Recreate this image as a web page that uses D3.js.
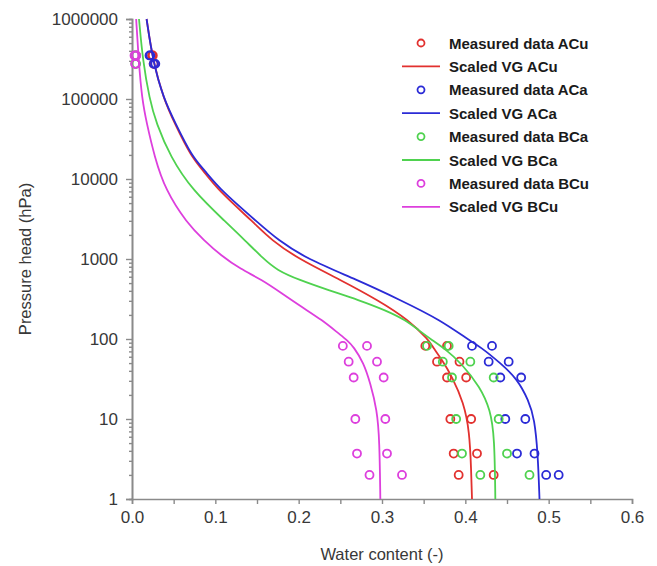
<!DOCTYPE html>
<html>
<head>
<meta charset="utf-8">
<script src="https://cdn.jsdelivr.net/npm/d3@7"></script>
<style>
  body { margin: 0; background: #fff; }
  svg { display: block; font-family: "Liberation Sans", Arial, sans-serif; }
</style>
</head>
<body>
<script>
// suction heads of the measured points (hPa)
const heads = [350000, 275000, 82, 52, 33, 10, 3.7, 2];

// measured water content, two replicates per soil
const measACu1 = [0.024, 0.026, 0.352, 0.366, 0.378, 0.382, 0.386, 0.392];
const measACu2 = [0.025, 0.027, 0.378, 0.393, 0.401, 0.407, 0.414, 0.434];
const measACa1 = [0.021, 0.026, 0.408, 0.428, 0.442, 0.448, 0.462, 0.497];
const measACa2 = [0.022, 0.028, 0.432, 0.452, 0.467, 0.472, 0.483, 0.512];
const measBCa1 = [0.004, 0.004, 0.354, 0.373, 0.384, 0.389, 0.396, 0.418];
const measBCa2 = [0.005, 0.005, 0.380, 0.406, 0.434, 0.440, 0.450, 0.477];
const measBCu1 = [0.003, 0.004, 0.253, 0.260, 0.266, 0.268, 0.270, 0.285];
const measBCu2 = [0.005, 0.004, 0.282, 0.294, 0.302, 0.304, 0.306, 0.324];

// scaled VG curves: [water content, head]
const vgACu = [[0.0175, 1000000], [0.025, 300000], [0.038, 100000], [0.051, 50000], [0.071, 19000],
  [0.085, 12900], [0.103, 7300], [0.147, 2800], [0.167, 1730], [0.2, 1000], [0.25, 550], [0.295, 307],
  [0.332, 173], [0.356, 97], [0.36, 82], [0.372, 55], [0.384, 34], [0.398, 16], [0.405, 7],
  [0.407, 2.3], [0.408, 1]];
const vgACa = [[0.0175, 1000000], [0.025, 300000], [0.038, 100000], [0.052, 50000], [0.072, 19000],
  [0.087, 12900], [0.106, 7300], [0.152, 2800], [0.175, 1730], [0.21, 1000], [0.27, 550], [0.322, 307],
  [0.37, 173], [0.404, 97], [0.418, 80], [0.442, 50], [0.462, 32], [0.476, 17], [0.483, 10],
  [0.487, 3.7], [0.489, 1]];
const vgBCa = [[0.0084, 1000000], [0.013, 300000], [0.021, 100000], [0.029, 50000], [0.046, 19000],
  [0.072, 7300], [0.114, 2800], [0.135, 1730], [0.158, 1000], [0.174, 724], [0.2, 550], [0.236, 407],
  [0.272, 307], [0.304, 229], [0.328, 173], [0.344, 129], [0.36, 97], [0.376, 75], [0.395, 50],
  [0.418, 25], [0.43, 13], [0.435, 6], [0.436, 1]];
const vgBCu = [[0.005, 1000000], [0.008, 300000], [0.012, 100000], [0.0176, 50000], [0.027, 19000],
  [0.04, 7300], [0.066, 2800], [0.086, 1730], [0.107, 1100], [0.13, 750], [0.156, 550], [0.18, 370],
  [0.204, 250], [0.228, 173], [0.248, 117], [0.258, 97], [0.266, 80], [0.278, 50], [0.286, 28],
  [0.294, 13], [0.297, 5.5], [0.298, 1]];

const names = ['ACu', 'ACa', 'BCa', 'BCu'];
const colors = ['#e2312f', '#2b2bd6', '#4fd24f', '#dd3fdd'];

const xTicks = [0, 0.05, 0.1, 0.15, 0.2, 0.25, 0.3, 0.35, 0.4, 0.45, 0.5, 0.55, 0.6];
const yTicks = [1, 10, 100, 1000, 10000, 100000, 1000000];

const series = [
  { meas: [measACu1, measACu2], vg: vgACu },
  { meas: [measACa1, measACa2], vg: vgACa },
  { meas: [measBCa1, measBCa2], vg: vgBCa },
  { meas: [measBCu1, measBCu2], vg: vgBCu },
];

const W = 657, H = 566;
const svg = d3.select('body').append('svg').attr('width', W).attr('height', H);

const x = d3.scaleLinear().domain([0, 0.6]).range([132, 632]);
const y = d3.scaleLog().domain([1, 1000000]).range([499, 19]);

const axisColor = '#8a8a8a';
const labelColor = '#383838';

// y minor ticks (2..9 in every decade)
const yMinor = [];
yTicks.slice(0, -1).forEach((d) => { for (let k = 2; k < 10; k++) yMinor.push(d * k); });

const gyMinor = svg.append('g').attr('transform', `translate(${x(0)},0)`)
  .call(d3.axisLeft(y).tickValues(yMinor).tickSize(3).tickFormat(''));
const gy = svg.append('g').attr('transform', `translate(${x(0)},0)`)
  .call(d3.axisLeft(y).tickValues(yTicks).tickSize(6).tickPadding(8).tickFormat(d3.format('d')));
const gx = svg.append('g').attr('transform', `translate(0,${y(1)})`)
  .call(d3.axisBottom(x).tickValues(xTicks).tickSize(5).tickPadding(7)
    .tickFormat((d) => (Math.round(d * 100) % 10 === 0 ? d.toFixed(1) : '')));

[gyMinor, gy, gx].forEach((g) => {
  g.selectAll('path').attr('stroke', axisColor).attr('stroke-width', 1.6);
  g.selectAll('line').attr('stroke', axisColor).attr('stroke-width', 1.4);
  g.selectAll('text').attr('fill', labelColor).attr('font-size', 17)
    .attr('font-family', '"Liberation Sans", Arial, sans-serif');
});

svg.append('text')
  .attr('transform', `translate(25,${(y(1) + y(1000000)) / 2}) rotate(-90)`)
  .attr('text-anchor', 'middle').attr('dominant-baseline', 'central')
  .attr('font-size', 16.5).attr('fill', labelColor)
  .text('Pressure head (hPa)');

svg.append('text')
  .attr('x', (x(0) + x(0.6)) / 2).attr('y', 554)
  .attr('text-anchor', 'middle').attr('dominant-baseline', 'central')
  .attr('font-size', 16.5).attr('fill', labelColor)
  .text('Water content (-)');

const line = d3.line()
  .x((d) => x(d[0]))
  .y((d) => y(d[1]))
  .curve(d3.curveBasis);

series.forEach((s, i) => {
  const pts = [];
  s.meas.forEach((rep) => rep.forEach((v, j) => pts.push([v, heads[j]])));
  svg.append('g').selectAll('circle').data(pts).enter().append('circle')
    .attr('cx', (d) => x(d[0]))
    .attr('cy', (d) => y(d[1]))
    .attr('r', 4)
    .attr('fill', 'none')
    .attr('stroke', colors[i])
    .attr('stroke-width', 1.8);

  svg.append('path')
    .datum(s.vg.slice().sort((a, b) => a[1] - b[1]))
    .attr('d', line)
    .attr('fill', 'none')
    .attr('stroke', colors[i])
    .attr('stroke-width', 1.8);
});

// legend
const legend = svg.append('g');
const rowH = 23.4;
names.forEach((n, i) => {
  const y0 = 43 + i * 2 * rowH;
  legend.append('circle').attr('cx', 421).attr('cy', y0).attr('r', 3.5)
    .attr('fill', 'none').attr('stroke', colors[i]).attr('stroke-width', 1.8);
  legend.append('text').attr('x', 449).attr('y', y0).attr('dominant-baseline', 'central')
    .attr('font-size', 15).attr('font-weight', 'bold').attr('fill', '#1a1a1a')
    .text('Measured data ' + n);
  legend.append('line').attr('x1', 402).attr('x2', 440).attr('y1', y0 + rowH).attr('y2', y0 + rowH)
    .attr('stroke', colors[i]).attr('stroke-width', 1.8);
  legend.append('text').attr('x', 449).attr('y', y0 + rowH).attr('dominant-baseline', 'central')
    .attr('font-size', 15).attr('font-weight', 'bold').attr('fill', '#1a1a1a')
    .text('Scaled VG ' + n);
});
</script>
</body>
</html>
